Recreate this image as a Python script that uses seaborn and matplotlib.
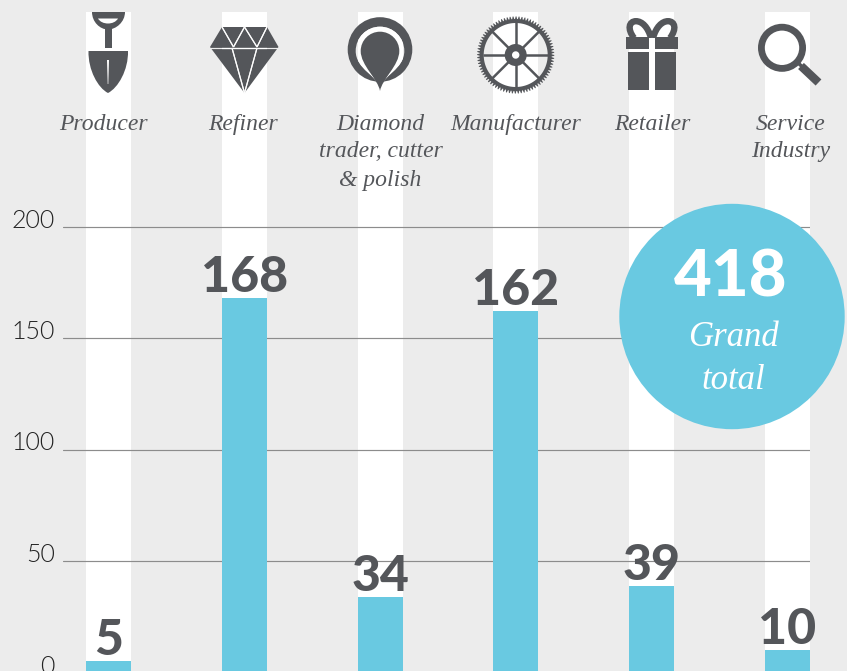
import numpy as np
import matplotlib
matplotlib.use("Agg")
import matplotlib.pyplot as plt
import seaborn as sns
from matplotlib.patches import Circle, Polygon, PathPatch, Rectangle, Wedge
from matplotlib.path import Path
from matplotlib.transforms import ScaledTranslation

# ---- data
categories = ["Producer", "Refiner", "Diamond trader, cutter & polish",
              "Manufacturer", "Retailer", "Service Industry"]
values = [5, 168, 34, 162, 39, 10]
y_ticks = [0, 50, 100, 150, 200]
label_lines = [["Producer"], ["Refiner"], ["Diamond", "trader, cutter", "& polish"],
               ["Manufacturer"], ["Retailer"], ["Service", "Industry"]]
total_value = "418"
total_label = ["Grand", "total"]

BG = "#ECECEC"
BLUE = "#69C9E1"
DARK = "#54565A"
SANS = "Lato"
SERIF = "Liberation Serif"

sns.set_theme(style="white")
W, H = 847, 671
fig = plt.figure(figsize=(W / 100, H / 100), dpi=100, facecolor=BG)

PX_PER_UNIT = 2.23
ZERO_PX = 672.5
STEP = 135.8
FIRST = 108.5
BAR_W = 45 / STEP
EXTRA = 6  # the axes run a little past the lower edge, so that y = 0 stays in view

ax = fig.add_axes([63 / W, -EXTRA / H, 747 / W, (H + EXTRA) / H])
ax.set_facecolor("none")
sns.barplot(x=categories, y=values, color=BLUE, saturation=1, width=BAR_W, ax=ax,
            linewidth=0, edgecolor="none")
for i in range(len(categories)):
    ax.axvspan(i - BAR_W / 2, i + BAR_W / 2, ymin=0, ymax=1 - 12 / (H + EXTRA),
               facecolor="white", edgecolor="none", zorder=0.2)
ax.set_axisbelow(True)
ax.set_yticks(y_ticks)
ax.set_xticks([])
ax.set_xlim((63 - FIRST) / STEP, (810 - FIRST) / STEP)
ax.set_ylim((ZERO_PX - H - EXTRA) / PX_PER_UNIT, ZERO_PX / PX_PER_UNIT)
ax.grid(axis="y", color="#8C8C8C", lw=0.85)
ax.grid(axis="x", visible=False)
ax.set_xlabel("")
ax.set_ylabel("")
ax.tick_params(axis="y", length=0, pad=6, labelcolor="#222222", labelsize=18)
nudge = ScaledTranslation(0, -1 / 100, fig.dpi_scale_trans)
for t in ax.get_yticklabels():
    t.set_fontfamily(SANS)
    t.set_fontweight(300)
    t.set_va("baseline")
    t.set_transform(t.get_transform() + nudge)
for s in ax.spines.values():
    s.set_visible(False)
for i, v in enumerate(values):
    ax.annotate(str(v), (i, v), xytext=(0, 6), textcoords="offset pixels",
                ha="center", va="baseline", color=DARK,
                fontfamily=SANS, fontweight=900, fontsize=36, zorder=3)

# ---- overlay in pixel coordinates for icons, captions and the badge
ov = fig.add_axes([0, 0, 1, 1])
ov.set_xlim(0, W)
ov.set_ylim(H, 0)
ov.axis("off")
ov.patch.set_alpha(0)

col_rects = [Rectangle((86 + round(i * STEP), 12), 45, H, transform=ov.transData)
             for i in range(6)]

def knock(make, i):
    """Draw a gap: background grey, white where it crosses the column."""
    ov.add_patch(make(BG))
    p = make("white")
    ov.add_patch(p)
    p.set_clip_path(col_rects[i])

def seg(pts, lw_px=1.6):
    def make(c):
        return PathPatch(Path(pts), fill=False, edgecolor=c, lw=lw_px * 0.72,
                         capstyle="butt")
    return make

def curve(x0, y0, *ctrl):
    verts = [(x0, y0)] + list(ctrl)
    codes = [Path.MOVETO] + [Path.CURVE4] * len(ctrl)
    return verts, codes

# shovel
grip = Path(*curve(92, 12, (92, 22), (100, 29.5), (108, 29.5), (116, 29.5), (125, 22), (125, 12)))
ov.add_patch(PathPatch(grip, fc=DARK, ec="none"))
hole = Path(*curve(98, 18.5, (100, 22), (104, 23.5), (108, 23.5), (112, 23.5), (116, 22), (118, 18.5)))
ov.add_patch(PathPatch(hole, fc="white", ec="none"))
ov.add_patch(Rectangle((104.5, 28), 7, 19.5, fc=DARK, ec="none"))
blade = Path(*curve(88.5, 51, (88, 70), (98, 88), (108, 93), (118, 88), (128.5, 70), (128, 51)))
ov.add_patch(PathPatch(blade, fc=DARK, ec="none"))
ov.add_patch(Polygon([(107, 60), (109, 60), (108.3, 84), (107.7, 84)], fc="white", ec="none"))

# diamond
ov.add_patch(Polygon([(222, 27), (267, 27), (278.5, 47), (244.5, 93), (210, 47)],
                     closed=True, fc=DARK, ec="none"))
ax_pts = [[(222, 27), (233.5, 47)], [(244.5, 27), (233.5, 47)], [(244.5, 27), (257, 47)],
          [(267, 27), (257, 47)], [(210, 47.7), (279, 47.7)],
          [(232, 48), (244.5, 93)], [(257, 48), (244.5, 93)]]
for pts in ax_pts:
    knock(seg(pts, 1.2), 1)

# pin
ov.add_patch(Circle((380, 49.5), 32.3, fc=DARK, ec="none"))
def tear(r, tip):
    cx, cy = 380, 51
    k = 0.5523 * r
    verts, codes = curve(cx, cy - r,
                         (cx + k, cy - r), (cx + r, cy - k), (cx + r, cy),
                         (cx + r, cy + r * 0.75), (cx + 2, tip - 12), (cx, tip),
                         (cx - 2, tip - 12), (cx - r, cy + r * 0.75), (cx - r, cy),
                         (cx - r, cy - k), (cx - k, cy - r), (cx, cy - r))
    return Path(verts, codes)
def outer_tear(c):
    return PathPatch(tear(24.3, 88), fc=c, ec="none")
knock(outer_tear, 2)
ov.add_patch(PathPatch(tear(19.3, 91), fc=DARK, ec="none"))

# gear
gx, gy = 515.7, 55
n_teeth = 80
ang = np.linspace(0, 2 * np.pi, n_teeth * 4, endpoint=False)
rad = np.tile([38.6, 38.6, 36, 36], n_teeth)
ring_out = np.c_[gx + rad * np.cos(ang), gy + rad * np.sin(ang)]
a2 = np.linspace(2 * np.pi, 0, 180, endpoint=False)
ring_in = np.c_[gx + 32 * np.cos(a2), gy + 32 * np.sin(a2)]
verts = np.r_[ring_out, ring_out[:1], ring_in, ring_in[:1]]
codes = ([Path.MOVETO] + [Path.LINETO] * (len(ring_out) - 1) + [Path.CLOSEPOLY]
         + [Path.MOVETO] + [Path.LINETO] * (len(ring_in) - 1) + [Path.CLOSEPOLY])
ov.add_patch(PathPatch(Path(verts, codes), fc=DARK, ec="none"))
for a in np.arange(8) * np.pi / 4:
    ov.plot([gx + 8 * np.cos(a), gx + 33 * np.cos(a)], [gy + 8 * np.sin(a), gy + 33 * np.sin(a)],
            color=DARK, lw=1.8, solid_capstyle="butt")
ov.add_patch(Wedge((gx, gy), 11, 0, 360, width=7.3, fc=DARK, ec="none"))

# gift
for sign in (-1, 1):
    vs, cs = curve(652 + sign * 1, 38,
                   (652 + sign * 4, 27), (652 + sign * 10, 21.2), (652 + sign * 16, 21.2),
                   (652 + sign * 23, 21.2), (652 + sign * 25, 29), (652 + sign * 18, 38))
    ov.add_patch(PathPatch(Path(vs, cs), fill=False, ec=DARK, lw=4.6))
ov.add_patch(Rectangle((625.7, 37), 23, 12, fc=DARK, ec="none"))
ov.add_patch(Rectangle((655, 37), 22.8, 12, fc=DARK, ec="none"))
ov.add_patch(Rectangle((648.7, 37.5), 6.3, 13, fc="white", ec="none"))
ov.add_patch(Rectangle((628, 52), 21, 38, fc=DARK, ec="none"))
ov.add_patch(Rectangle((655, 52), 21, 38, fc=DARK, ec="none"))

# magnifier
ov.add_patch(Circle((782, 47.8), 20.6, fill=False, ec=DARK, lw=6.8 * 0.72))
ov.plot([797, 802], [62, 66.5], color=DARK, lw=3.5 * 0.72, solid_capstyle="butt")
ov.plot([801, 818.5], [66, 82.5], color=DARK, lw=8.4 * 0.72, solid_capstyle="butt")

# captions
centers = [103, 243, 380.5, 516, 652.5, 791]
baselines = [130, 157, 186]
for cx, lines in zip(centers, label_lines):
    for base, line in zip(baselines, lines):
        ov.text(cx, base, line, ha="center", va="baseline", color=DARK,
                fontfamily=SERIF, fontstyle="italic", fontsize=17)

# badge
ov.add_patch(Circle((732, 316.5), 112.7, fc=BLUE, ec="none", zorder=4))
ov.text(731, 296.5, total_value, ha="center", va="baseline", color="white",
        fontfamily=SANS, fontweight=900, fontsize=47, zorder=5)
for base, line in zip([346, 389], total_label):
    ov.text(733, base, line, ha="center", va="baseline", color="white",
            fontfamily=SERIF, fontstyle="italic", fontsize=25, zorder=5)

fig.savefig("out.png", dpi=100, facecolor=BG)
